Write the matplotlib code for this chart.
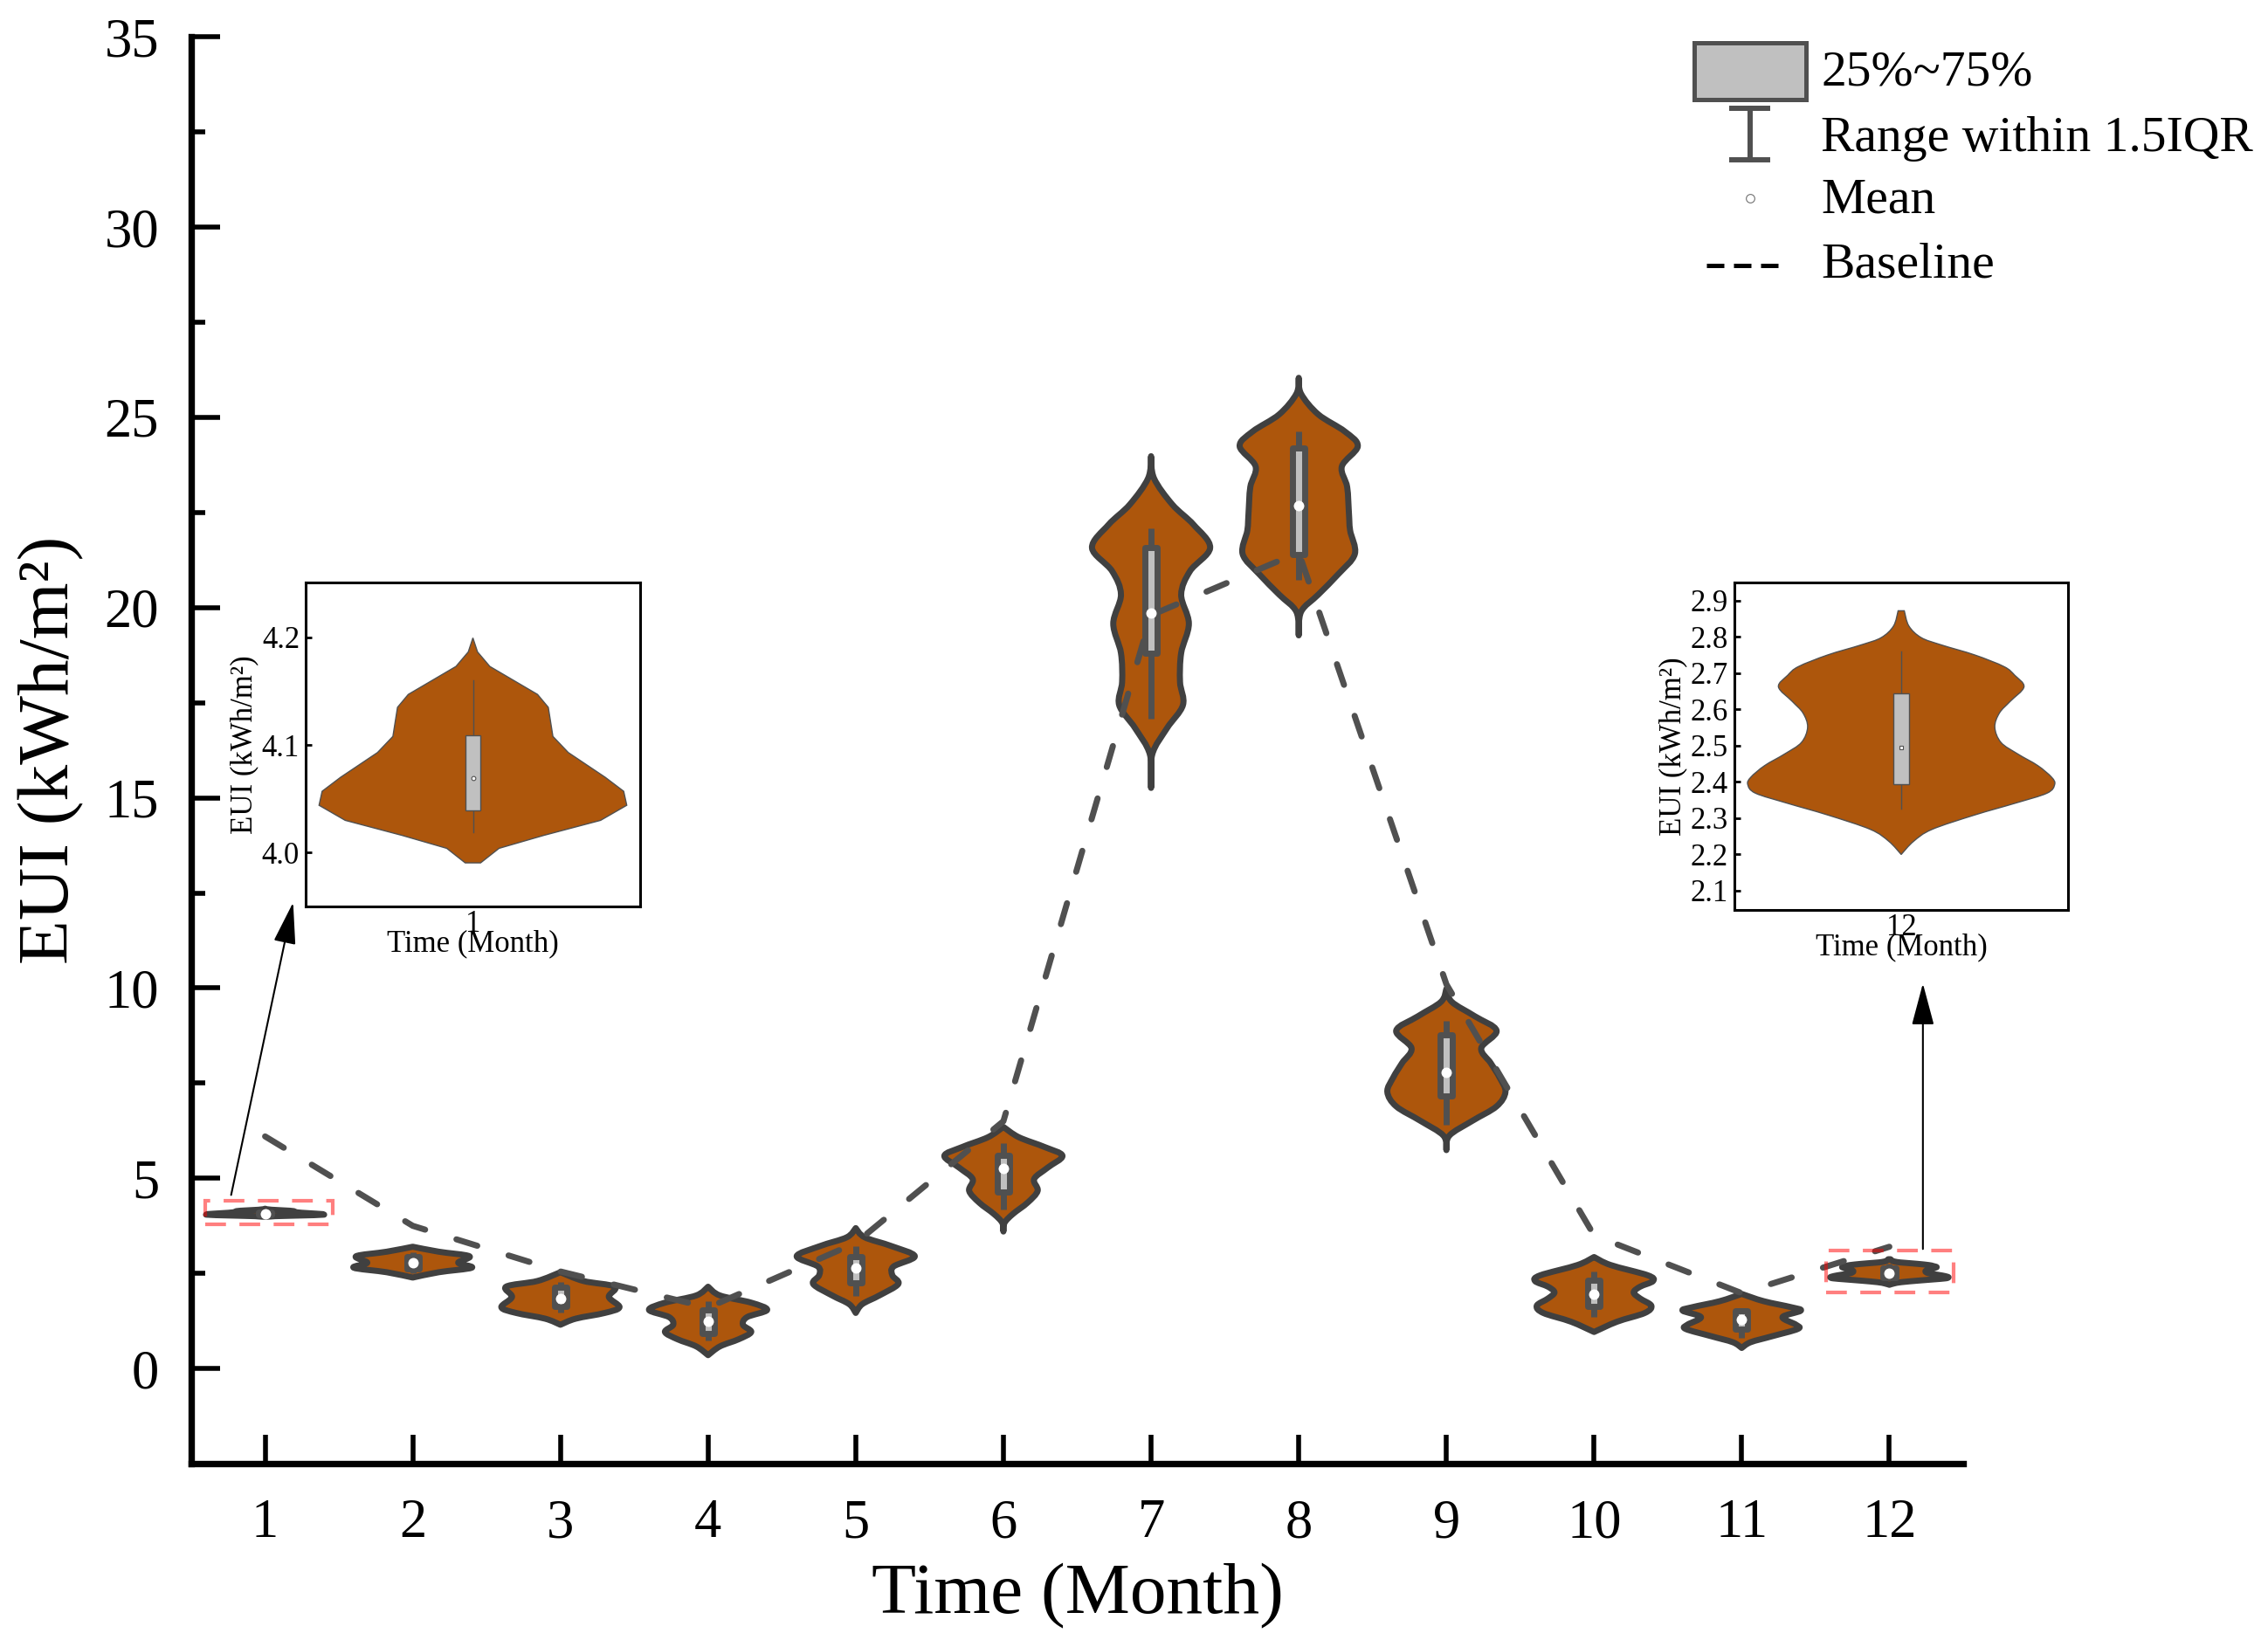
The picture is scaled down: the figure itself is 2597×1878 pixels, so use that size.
import numpy as np
import matplotlib
matplotlib.use('Agg')
import matplotlib.pyplot as plt
from matplotlib.path import Path
from matplotlib.patches import PathPatch, Rectangle
from matplotlib.lines import Line2D

plt.rcParams['font.family'] = ['Liberation Serif', 'DejaVu Serif']
plt.rcParams['mathtext.fontset'] = 'stix'

# ---- data ----
months = list(range(1, 13))
baseline = [6.1, 3.75, 2.55, 1.6, 3.3, 6.5, 19.8, 21.45, 10.1, 3.5, 1.98, 3.2]

# box (25%-75%), whiskers (1.5 IQR) and mean for each month
q1 = [4.039, 2.63, 1.64, 0.91, 2.26, 4.65, 18.81, 21.40, 7.16, 1.64, 1.04, 2.393]
q3 = [4.109, 2.93, 2.13, 1.55, 2.95, 5.61, 21.57, 24.20, 8.76, 2.32, 1.52, 2.643]
whisk_lo = [4.019, 2.50, 1.46, 0.73, 1.90, 4.19, 17.07, 20.73, 6.41, 1.36, 0.80, 2.326]
whisk_hi = [4.160, 3.05, 2.27, 1.77, 3.22, 5.92, 22.09, 24.63, 9.14, 2.55, 1.59, 2.760]
means = [4.0695, 2.78, 1.84, 1.25, 2.65, 5.25, 19.85, 22.69, 7.78, 1.96, 1.28, 2.494]

# violin outlines: EUI levels and relative half-width (1 = widest)
violin_y = [
    [3.9905, 3.9905, 4.004, 4.016, 4.030, 4.044, 4.057, 4.070, 4.093, 4.108, 4.135, 4.147, 4.173, 4.1865, 4.1995],
    [2.39, 2.53, 2.65, 2.78, 2.95, 3.07, 3.20],
    [1.15, 1.31, 1.46, 1.61, 1.88, 2.15, 2.30, 2.53],
    [0.35, 0.58, 0.77, 0.96, 1.15, 1.35, 1.54, 1.73, 1.92, 2.15],
    [1.46, 1.69, 1.92, 2.22, 2.45, 2.68, 2.95, 3.22, 3.45, 3.69],
    [3.60, 3.83, 4.06, 4.36, 4.67, 4.98, 5.28, 5.59, 5.82, 6.08, 6.35],
    [15.26, 16.14, 16.83, 17.44, 18.05, 18.81, 19.58, 20.34, 20.96, 21.57, 22.18, 22.71, 23.40, 23.98],
    [19.27, 19.89, 20.34, 20.88, 21.41, 22.03, 22.48, 23.17, 23.71, 24.24, 24.63, 25.08, 25.62, 26.04],
    [5.74, 6.12, 6.51, 6.89, 7.27, 7.65, 8.03, 8.42, 8.88, 9.26, 9.64, 9.98],
    [0.96, 1.23, 1.46, 1.65, 1.84, 2.00, 2.15, 2.30, 2.45, 2.72, 2.93],
    [0.54, 0.69, 0.85, 1.04, 1.15, 1.35, 1.52, 1.61, 1.77, 1.96],
    [2.200, 2.236, 2.269, 2.309, 2.341, 2.369, 2.393, 2.413, 2.445, 2.477, 2.509, 2.551,
     2.590, 2.622, 2.662, 2.694, 2.718, 2.750, 2.778, 2.798, 2.830, 2.872],
]
violin_w = [
    [0, 0.05, 0.17, 0.46, 0.83, 1.0, 0.98, 0.86, 0.62, 0.52, 0.49, 0.42, 0.11, 0.03, 0],
    [0, 0.44, 1.0, 0.77, 0.96, 0.44, 0],
    [0, 0.26, 0.75, 1.0, 0.82, 0.92, 0.39, 0],
    [0, 0.2, 0.52, 0.73, 0.59, 0.66, 1.0, 0.73, 0.2, 0],
    [0, 0.11, 0.40, 0.72, 0.62, 0.64, 1.0, 0.60, 0.15, 0],
    [0, 0.02, 0.16, 0.41, 0.58, 0.52, 0.75, 1.0, 0.70, 0.26, 0],
    [0, 0.02, 0.27, 0.54, 0.49, 0.51, 0.64, 0.51, 0.66, 1.0, 0.72, 0.36, 0.05, 0],
    [0, 0.04, 0.33, 0.67, 0.95, 0.87, 0.85, 0.82, 0.73, 1.0, 0.78, 0.33, 0.04, 0],
    [0, 0.05, 0.44, 0.85, 1.0, 0.90, 0.75, 0.59, 0.85, 0.48, 0.09, 0],
    [0, 0.39, 0.86, 0.97, 0.78, 0.67, 0.78, 1.0, 0.91, 0.28, 0],
    [0, 0.15, 0.52, 0.95, 0.92, 0.69, 1.0, 0.84, 0.37, 0],
    [0, 0.08, 0.20, 0.48, 0.74, 0.95, 1.0, 0.98, 0.89, 0.76, 0.65, 0.61,
     0.64, 0.71, 0.80, 0.74, 0.67, 0.48, 0.26, 0.13, 0.05, 0.02],
]

ORANGE = '#AD560C'
EDGE = '#404040'
BOXEDGE = '#505050'
BOXFILL = '#C0C0C0'


def violin_path(x0, vals, widths, half, smooth=True):
    '''closed outline, right side going up then left side coming down'''
    v = np.asarray(vals, float)
    w = np.asarray(widths, float) * half
    right = np.column_stack([x0 + w, v])
    left = np.column_stack([x0 - w[::-1], v[::-1]])
    verts, codes = [], []
    for k, side in enumerate([right, left]):
        n = len(side)
        verts.append(side[0])
        codes.append(Path.MOVETO if k == 0 else Path.LINETO)
        for i in range(n - 1):
            p0, p1 = side[i], side[i + 1]
            if smooth:
                pp = side[max(i - 1, 0)]
                pn = side[min(i + 2, n - 1)]
                verts += [p0 + (p1 - pp) / 6, p1 - (pn - p0) / 6, p1]
                codes += [Path.CURVE4] * 3
            else:
                verts.append(p1)
                codes.append(Path.LINETO)
    verts.append(right[0])
    codes.append(Path.CLOSEPOLY)
    return Path(verts, codes)


fig = plt.figure(figsize=(25.97, 18.78), dpi=100)
ax = fig.add_axes([219 / 2597, 1 - 1676 / 1878, 2029 / 2597, 1633.7 / 1878])

for i, m in enumerate(months):
    ax.add_patch(PathPatch(violin_path(m, violin_y[i], violin_w[i], 0.4, smooth=(m != 1)),
                           fc=ORANGE, ec=EDGE, lw=5, joinstyle='round', zorder=2))
    ax.plot([m, m], [whisk_lo[i], whisk_hi[i]], color=BOXEDGE, lw=5,
            solid_capstyle='butt', zorder=3)
    ax.add_patch(Rectangle((m - 0.042, q1[i]), 0.084, q3[i] - q1[i], fc=BOXFILL,
                           ec=BOXEDGE, lw=5, joinstyle='round', zorder=4))

ax.plot(months, baseline, color=BOXEDGE, lw=5, dashes=(3.6, 5.4),
        dash_capstyle='round', zorder=5)
ax.plot(months, means, ls='none', marker='o', ms=8.6, mfc='white', mec='white',
        mew=0, zorder=6)

# red boxes around the zoomed months
for (x0, x1, y0, y1) in [(0.596, 1.456, 3.80, 4.41), (11.573, 12.433, 2.01, 3.09)]:
    ax.add_patch(Rectangle((x0, y0), x1 - x0, y1 - y0, fill=False, ec='red', alpha=0.5,
                           lw=3, ls=(0, (5.7, 3.7)), zorder=7))

arrow = dict(arrowstyle='-|>,head_length=30,head_width=8', color='black', lw=1.5,
             shrinkA=0, shrinkB=0, mutation_scale=1)
ax.annotate('', xy=(1.19, 12.25), xytext=(0.77, 4.56), arrowprops=arrow, zorder=8)
ax.annotate('', xy=(12.227, 10.12), xytext=(12.227, 3.14), arrowprops=arrow, zorder=8)

ax.set_xlim(0.5, 12.5)
ax.set_ylim(-2.5, 35)
ax.set_xticks(months)
ax.set_yticks(range(0, 36, 5))
ax.set_yticks(np.arange(2.5, 35, 5), minor=True)
for s in ['top', 'right']:
    ax.spines[s].set_visible(False)
for s in ['left', 'bottom']:
    ax.spines[s].set_linewidth(5.3)
ax.tick_params(axis='both', which='major', direction='in', length=23.5, width=4,
               labelsize=45)
ax.tick_params(axis='y', which='minor', direction='in', length=11.5, width=4)
ax.tick_params(axis='y', which='major', pad=26.6)
ax.tick_params(axis='x', which='major', pad=29)
ax.set_xlabel('Time (Month)', fontsize=60)
ax.set_ylabel('EUI (kWh/m²)', fontsize=60)
ax.xaxis.set_label_coords(0.5, -0.0698)
ax.yaxis.set_label_coords(-0.0606, 0.5)


def inset(rect, idx, ylim, yticks, marker):
    a = fig.add_axes(rect, zorder=10)
    m = months[idx]
    a.add_patch(PathPatch(violin_path(m, violin_y[idx], violin_w[idx], 0.46,
                                      smooth=(m != 1)),
                          fc=ORANGE, ec=BOXEDGE, lw=1, zorder=2))
    a.plot([m, m], [whisk_lo[idx], whisk_hi[idx]], color=BOXEDGE, lw=1, zorder=3)
    a.add_patch(Rectangle((m - 0.023, q1[idx]), 0.046, q3[idx] - q1[idx], fc=BOXFILL,
                          ec=BOXEDGE, lw=1, zorder=4))
    a.plot([m], [means[idx]], ls='none', marker=marker, ms=3.4, mfc='white',
           mec=BOXEDGE, mew=0.8, zorder=5)
    a.set_xlim(m - 0.5, m + 0.5)
    a.set_ylim(*ylim)
    a.set_xticks([m])
    a.set_yticks(yticks)
    a.set_yticklabels(['%.1f' % t for t in yticks])
    for s in a.spines.values():
        s.set_linewidth(2.2)
    a.tick_params(axis='y', direction='in', length=5, width=2, labelsize=25, pad=5)
    a.tick_params(axis='x', length=0, labelsize=25, pad=3)
    a.set_xlabel('Time (Month)', fontsize=25)
    a.set_ylabel('EUI (kWh/m²)', fontsize=25)
    a.xaxis.set_label_coords(0.5, -0.07)
    a.yaxis.set_label_coords(-0.14, 0.5)
    return a


inset([350 / 2597, 1 - 1038 / 1878, 383 / 2597, 371 / 1878], 0, (3.95, 4.251),
      [4.0, 4.1, 4.2], 'o')
inset([1986 / 2597, 1 - 1042 / 1878, 382 / 2597, 375 / 1878], 11, (2.047, 2.95),
      [2.1, 2.2, 2.3, 2.4, 2.5, 2.6, 2.7, 2.8, 2.9], 's')

# ---- legend, drawn by hand in figure pixels ----
W, H = 2597, 1878


def fx(px):
    return px / W


def fy(py):
    return 1 - py / H


tf = fig.transFigure
fig.add_artist(Rectangle((fx(1939.5), fy(113.5)), fx(2068) - fx(1939.5), fy(49.5) - fy(113.5),
                         fc=BOXFILL, ec=BOXEDGE, lw=3.6, transform=tf))
fig.add_artist(Line2D([fx(2003.6)] * 2, [fy(124), fy(183)], color=BOXEDGE, lw=4.3, transform=tf))
fig.add_artist(Line2D([fx(1983), fx(2024)], [fy(124)] * 2, color=BOXEDGE, lw=4.3, transform=tf))
fig.add_artist(Line2D([fx(1983), fx(2024)], [fy(183)] * 2, color=BOXEDGE, lw=4.3, transform=tf))
fig.add_artist(Line2D([fx(2003.6)], [fy(226.7)], ls='none', marker='o', ms=7, mfc='white',
                      mec='#707070', mew=0.8, transform=tf))
fig.add_artist(Line2D([fx(1953.6), fx(2036)], [fy(304)] * 2, color='black', lw=3.6,
                      dashes=(4.0, 2.2), transform=tf))
for label, yb in [('25%~75%', 98), ('Range within 1.5IQR', 172.7),
                  ('Mean', 244), ('Baseline', 317)]:
    fig.text(fx(2085), fy(yb), label, fontsize=41.5, ha='left', va='baseline')

fig.savefig('out.png', dpi=100)
